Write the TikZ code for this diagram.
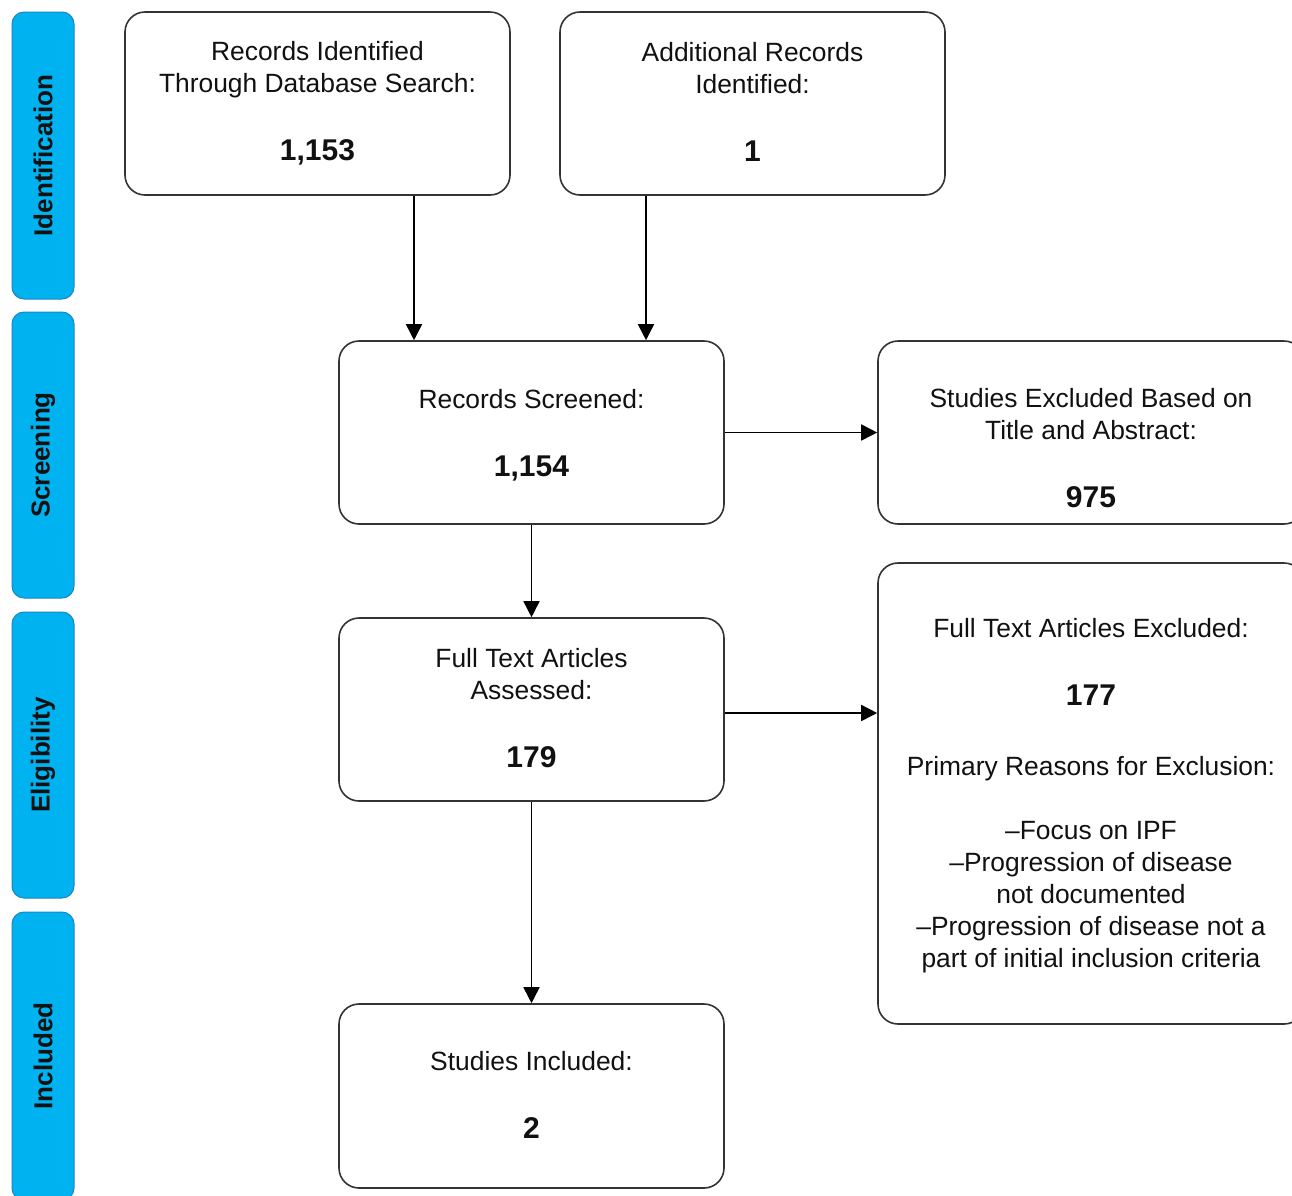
\documentclass[tikz,border=0pt]{standalone}
\usepackage{fontspec}
\setmainfont{Liberation Sans}
\usetikzlibrary{arrows.meta}
\definecolor{phase}{HTML}{00B2EF}
\definecolor{phaseedge}{HTML}{1A86C4}
\definecolor{boxedge}{HTML}{333333}
\definecolor{txt}{HTML}{111111}
\newcommand{\numtxt}[1]{{\fontsize{30}{32}\selectfont\bfseries #1}}
\newcommand{\dpt}[1]{\rule[-#1]{0pt}{#1}}
\begin{document}
\begin{tikzpicture}[x=1pt,y=-1pt,
  box/.style={draw=boxedge, line width=1.6pt, rounded corners=20pt, fill=white,
    align=center, text=txt, font=\fontsize{26.4}{32}\selectfont, inner sep=0pt},
  phasebar/.style={draw=phaseedge, line width=1pt, fill=phase, rounded corners=12pt,
    rotate=90, inner sep=0pt, minimum height=62pt, text=txt,
    font=\fontsize{26}{32}\selectfont\bfseries},
  arr/.style={draw=black, line width=1.6pt, -{Triangle[width=16pt,length=16pt]}}]
\clip (0,0) rectangle (1292,1195);
\fill[white] (0,0) rectangle (1292,1195);

% phase bars
\node[phasebar, minimum width=287pt] (p1) at (43,155.5) {Identification};
\node[phasebar, minimum width=286pt] (p2) at (43,455) {Screening};
\node[phasebar, minimum width=286pt] (p3) at (43,755) {Eligibility};
\node[phasebar, minimum width=288pt] (p4) at (43,1056) {Included};

% boxes
\node[box, minimum width=385pt, minimum height=183pt] (A) at (317.5,103.5)
  {Records Identified\\Through Database Search:\\[36pt]\numtxt{1,153}};
\node[box, minimum width=385pt, minimum height=183pt] (B) at (752.5,103.5)
  {Additional Records\\Identified:\\[36pt]\numtxt{1}\dpt{4pt}};
\node[box, minimum width=385pt, minimum height=183pt] (C) at (531.5,432.5)
  {Records Screened:\\[36pt]\numtxt{\raisebox{0pt}[\height][0pt]{1,154}}};
\node[box, minimum width=426pt, minimum height=183pt] (D) at (1091,432.5)
  {\rule{0pt}{50pt}Studies Excluded Based on\\Title and Abstract:\\[36pt]\numtxt{975}};
\node[box, minimum width=385pt, minimum height=183pt] (E) at (531.5,709.5)
  {Full Text Articles\\Assessed:\\[36pt]\numtxt{179}\dpt{3pt}};
\node[box, minimum width=426pt, minimum height=461pt] (F) at (1091,793.5)
  {Full Text Articles Excluded:\\[36pt]\numtxt{177}\\[38pt]Primary Reasons for Exclusion:\\[32pt]%
   –Focus on IPF\\–Progression of disease\\not documented\\–Progression of disease not a\\%
   \raisebox{0pt}[\height][1.5pt]{part of initial inclusion criteria}};
\node[box, minimum width=385pt, minimum height=184pt] (G) at (531.5,1096)
  {Studies Included:\\[36pt]\numtxt{2}\dpt{3pt}};

% connectors
\draw[arr] ([xshift=96.5pt]A.south) -- ([xshift=96.5pt]A.south |- C.north);
\draw[arr] ([xshift=-106.5pt]B.south) -- ([xshift=-106.5pt]B.south |- C.north);
\draw[arr] (C.east) -- (D.west);
\draw[arr] (C.south) -- (E.north);
\draw[arr] ([yshift=-3.5pt]E.east) -- ([yshift=-3.5pt]E.east -| F.west);
\draw[arr] (E.south) -- (G.north);
\end{tikzpicture}
\end{document}
